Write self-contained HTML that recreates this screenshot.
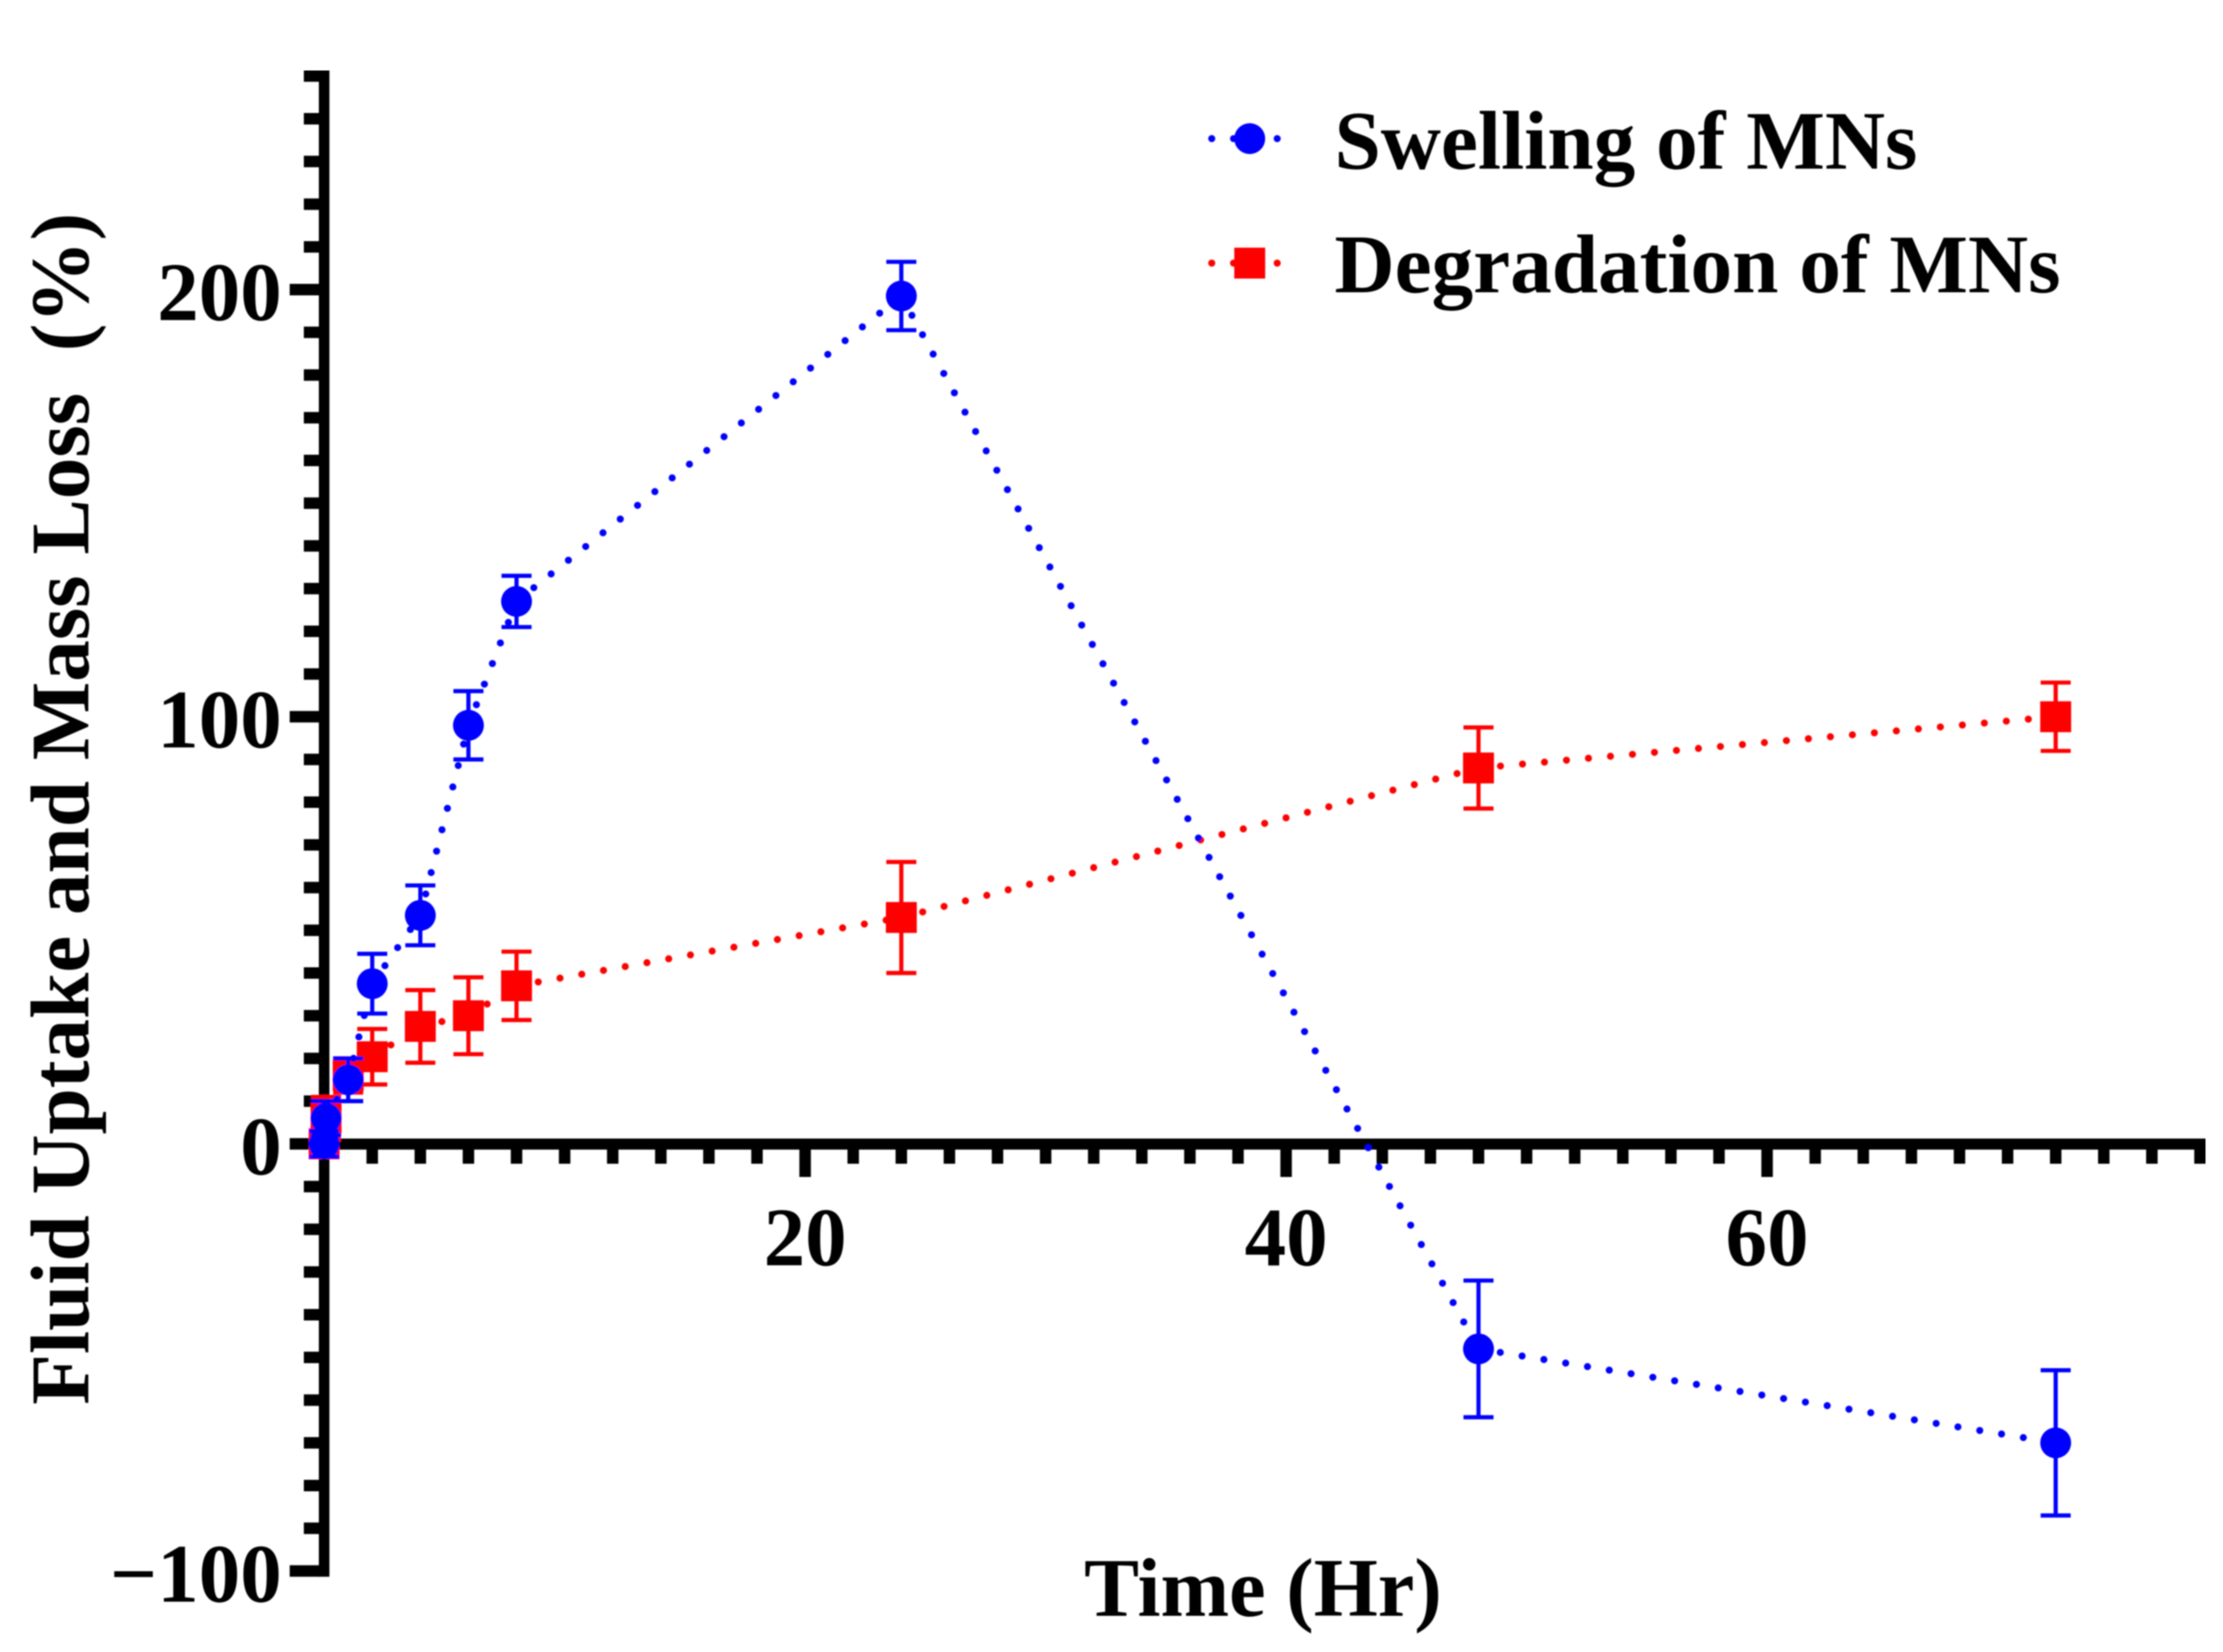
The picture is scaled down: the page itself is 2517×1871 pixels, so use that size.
<!DOCTYPE html>
<html lang="en">
<head>
<meta charset="utf-8">
<title>Fluid Uptake and Mass Loss</title>
<style>
html,body{margin:0;padding:0;background:#fff;width:2517px;height:1871px;overflow:hidden}
svg{display:block}
text{font-family:"Liberation Serif",serif;font-weight:bold;fill:#000;white-space:pre}
</style>
</head>
<body>
<svg id="chart" xmlns="http://www.w3.org/2000/svg" width="2517" height="1871" viewBox="0 0 2517 1871">
  <g id="plot" filter="url(#soft)"></g>
  <defs><filter id="soft" x="0" y="0" width="100%" height="100%"><feGaussianBlur stdDeviation="0.8"/></filter></defs>
</svg>
<script>
const times = [0, 0.08, 1, 2, 4, 6, 8, 24, 48, 72];
const swellingValues = [0, 6, 15, 37.5, 53.5, 98, 127, 198.5, -48, -70];
const swellingErrors = [3, 4, 5, 7, 7, 8, 6, 8, 16, 17];
const degradationValues = [0, 6, 16, 20.4, 27.5, 30, 37, 53, 88, 100];
const degradationErrors = [3, 5, 4, 6.5, 8.5, 9, 8, 13, 9.5, 8];
const xTickLabels = [20, 40, 60];
const yTickLabels = [200, 100, 0, -100];
const xMax = 78;
const xMinorStep = 2;
const yMin = -100;
const yMax = 250;
const yMinorStep = 10;

const SVG = 'http://www.w3.org/2000/svg';
const plot = document.getElementById('plot');
const xScale = v => 367 + v * 27.23;
const yScale = v => 1295.5 - v * 4.8375;

function make(tag, attrs, parent) {
  const el = document.createElementNS(SVG, tag);
  for (const k in attrs) el.setAttribute(k, attrs[k]);
  (parent || plot).appendChild(el);
  return el;
}

/* axes */
const axisGroup = make('g', {});



const yAxisLine = make('rect', {x: 361, y: yScale(yMax) - 6.5, width: 12, height: yScale(yMin) - yScale(yMax) + 13, fill: '#000'}, axisGroup);



const xAxisLine = make('rect', {x: 361, y: 1289.5, width: xScale(xMax) - 361 + 6.5, height: 12.5, fill: '#000'}, axisGroup);



for (let v = yMin; v <= yMax; v += yMinorStep) {
  const isMajor = v % 100 === 0;
  const left = isMajor ? 328 : 344;
  const tick = make('rect', {x: left, y: yScale(v) - 6.5, width: 362 - left, height: 13, fill: '#000'}, axisGroup);
  
  
}
for (let v = xMinorStep; v <= xMax; v += xMinorStep) {
  const isMajor = v % 20 === 0;
  const tick = make('rect', {x: xScale(v) - 6.5, y: 1300, width: 13, height: isMajor ? 33 : 18, fill: '#000'}, axisGroup);
  
  
}

/* tick labels */
for (const v of yTickLabels) {
  const label = make('text', {x: 319, y: yScale(v) + 34.5, 'font-size': 94, 'text-anchor': 'end'}, axisGroup);
  label.textContent = v < 0 ? '\u2212' + Math.abs(v) : String(v);
  
  
}
for (const v of xTickLabels) {
  const label = make('text', {x: xScale(v), y: 1433, 'font-size': 94, 'text-anchor': 'middle'}, axisGroup);
  label.textContent = String(v);
  
  
}

/* series */
function drawSeries(name, color, values, errors, shape) {
  const group = make('g', {});
  
  

  for (let i = 0; i < times.length - 1; i++) {
    const seg = make('line', {
      x1: xScale(times[i]), y1: yScale(values[i]),
      x2: xScale(times[i + 1]), y2: yScale(values[i + 1]),
      stroke: color, 'stroke-width': 8, 'stroke-linecap': 'round', 'stroke-dasharray': '0 25'
    }, group);
    
    
  }
  for (let i = 0; i < times.length; i++) {
    const cx = xScale(times[i]);
    const top = yScale(values[i] + errors[i]);
    const bottom = yScale(values[i] - errors[i]);
    const err = make('path', {
      d: 'M' + (cx - 17) + ' ' + top + 'H' + (cx + 17) + 'M' + cx + ' ' + top + 'V' + bottom + 'M' + (cx - 17) + ' ' + bottom + 'H' + (cx + 17),
      stroke: color, 'stroke-width': 4.7, fill: 'none'
    }, group);
    
    

    const cy = yScale(values[i]);
    let mark;
    if (shape === 'circle') {
      mark = make('circle', {cx: cx, cy: cy, r: 17.5, fill: color}, group);
    } else {
      mark = make('rect', {x: cx - 17.5, y: cy - 17.5, width: 35, height: 35, fill: color}, group);
    }
    
    
  }
}
drawSeries('degradation', '#ff0000', degradationValues, degradationErrors, 'square');
drawSeries('swelling', '#0000ff', swellingValues, swellingErrors, 'circle');

/* titles */
const yTitle = make('text', {x: 0, y: 0, 'font-size': 94, 'text-anchor': 'middle', transform: 'translate(100 916) rotate(-90)', textLength: 1350, lengthAdjust: 'spacingAndGlyphs'});
yTitle.textContent = 'Fluid Uptake and Mass Loss  (%)';



const xTitle = make('text', {x: 1430, y: 1830, 'font-size': 94, 'text-anchor': 'middle', textLength: 405, lengthAdjust: 'spacingAndGlyphs'});
xTitle.textContent = 'Time (Hr)';



/* legend */
const legend = make('g', {});



const legendSwellingLine = make('line', {x1: 1372, y1: 157, x2: 1450, y2: 157, stroke: '#0000ff', 'stroke-width': 8, 'stroke-linecap': 'round', 'stroke-dasharray': '0 24.7'}, legend);


const legendSwellingMark = make('circle', {cx: 1415, cy: 157, r: 17.5, fill: '#0000ff'}, legend);


const legendSwellingText = make('text', {x: 1511, y: 191, 'font-size': 94, textLength: 660, lengthAdjust: 'spacingAndGlyphs'}, legend);
legendSwellingText.textContent = 'Swelling of MNs';



const legendDegradationLine = make('line', {x1: 1372, y1: 298, x2: 1450, y2: 298, stroke: '#ff0000', 'stroke-width': 8, 'stroke-linecap': 'round', 'stroke-dasharray': '0 24.7'}, legend);


const legendDegradationMark = make('rect', {x: 1397.5, y: 280.5, width: 35, height: 35, fill: '#ff0000'}, legend);


const legendDegradationText = make('text', {x: 1511, y: 331, 'font-size': 94, textLength: 822, lengthAdjust: 'spacingAndGlyphs'}, legend);
legendDegradationText.textContent = 'Degradation of MNs';


</script>
</body>
</html>
